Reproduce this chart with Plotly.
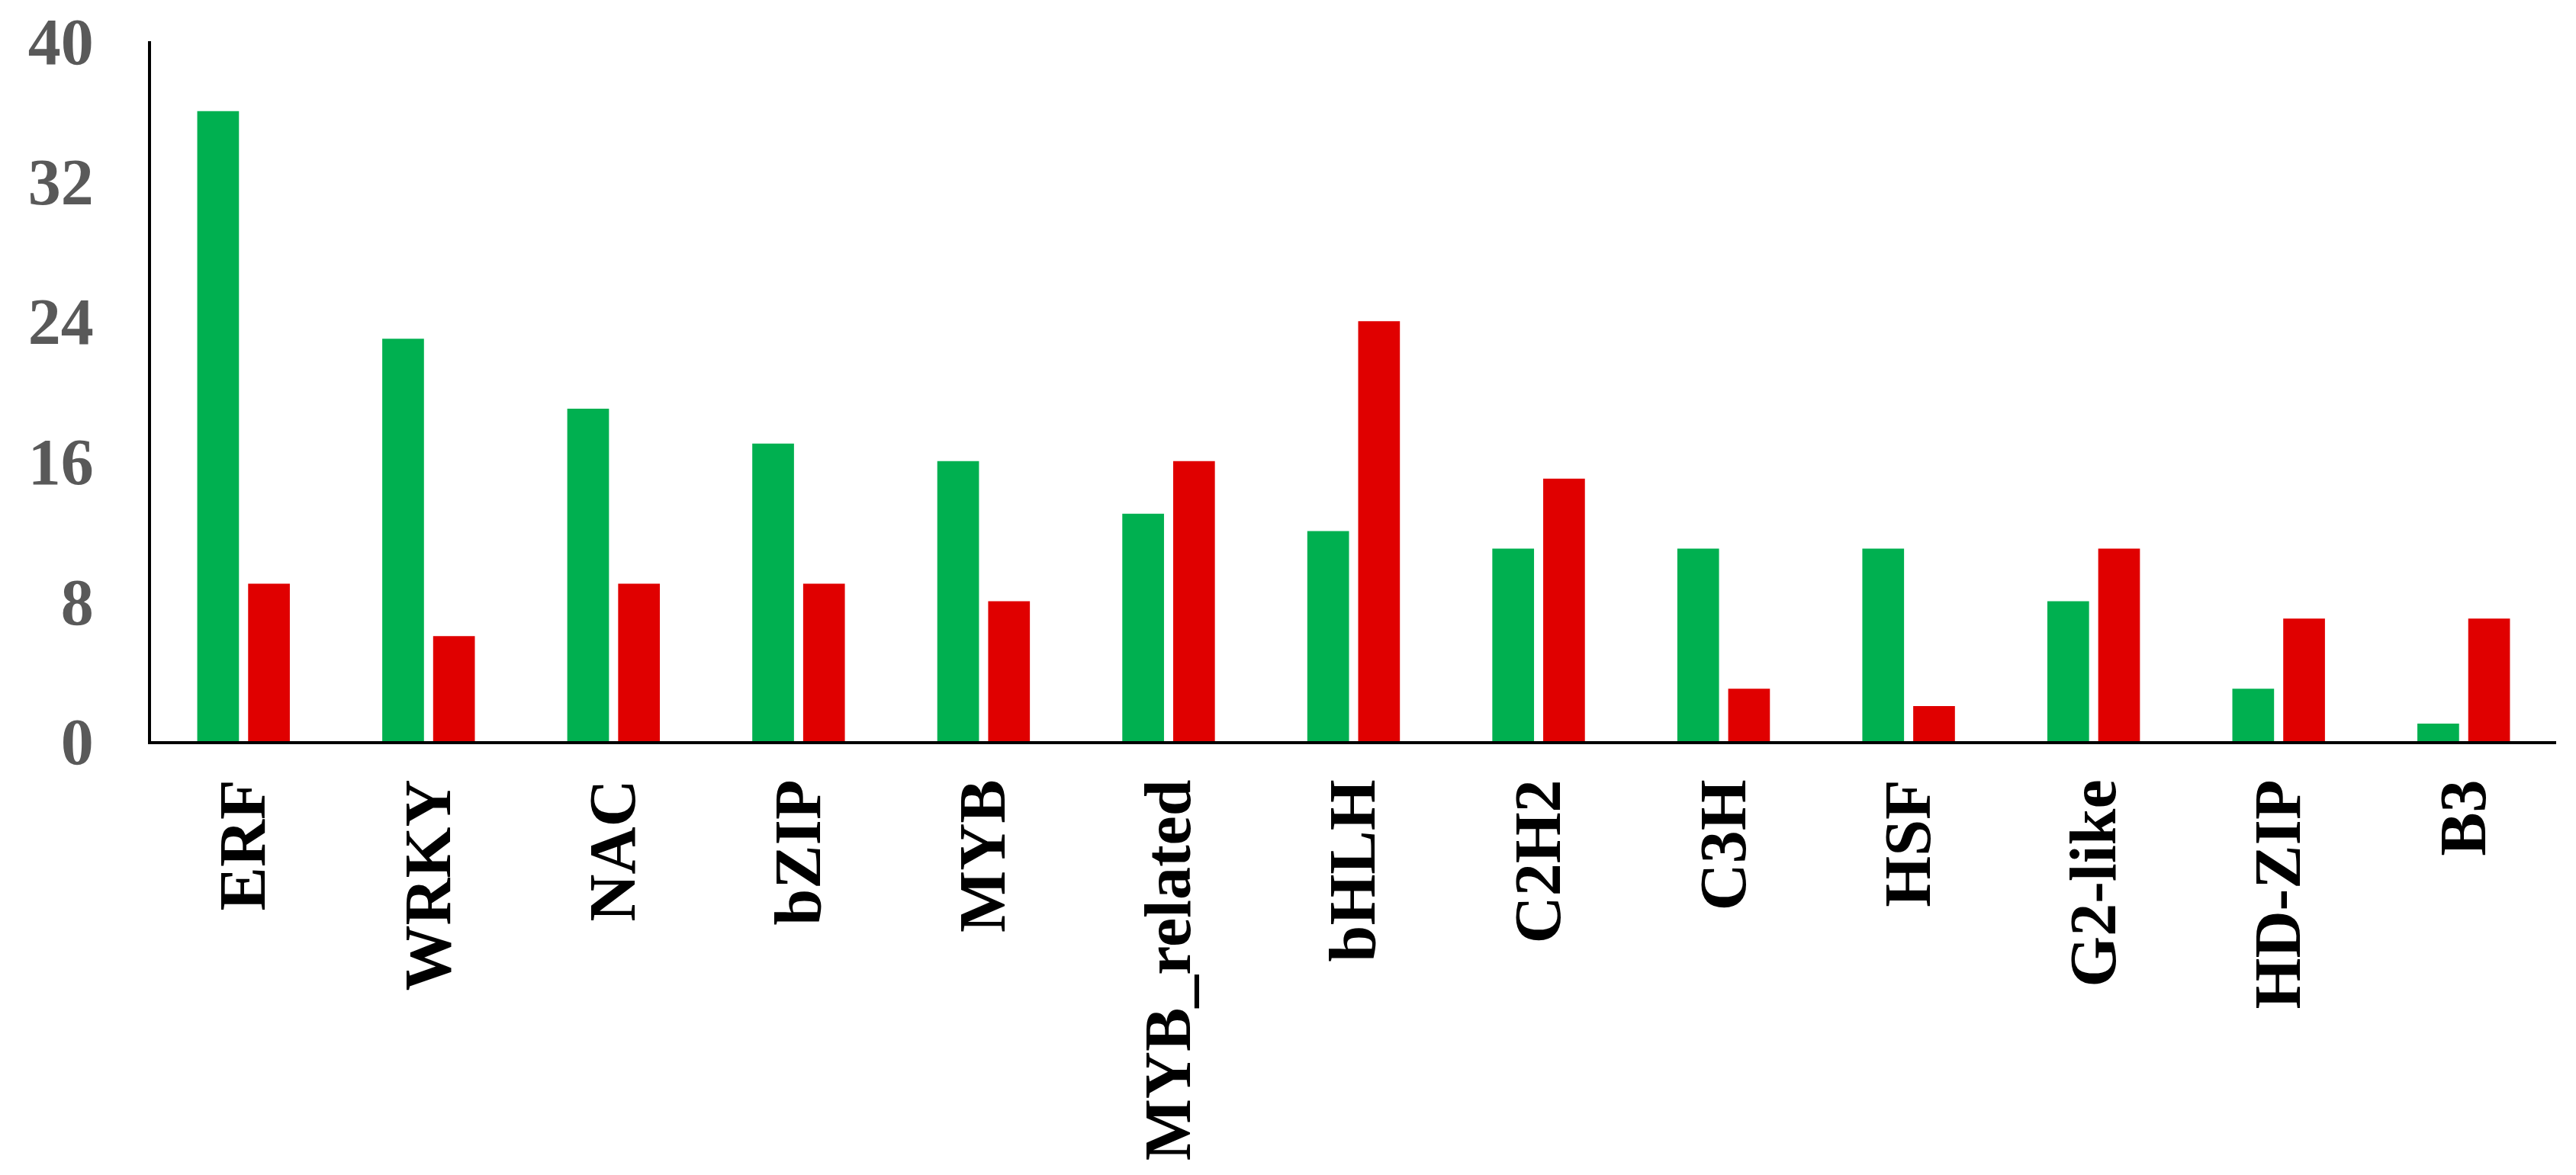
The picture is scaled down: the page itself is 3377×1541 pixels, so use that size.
import plotly.graph_objects as go

families = ["ERF", "WRKY", "NAC", "bZIP", "MYB", "MYB_related", "bHLH",
            "C2H2", "C3H", "HSF", "G2-like", "HD-ZIP", "B3"]
green_counts = [36, 23, 19, 17, 16, 13, 12, 11, 11, 11, 8, 3, 1]
red_counts = [9, 6, 9, 9, 8, 16, 24, 15, 3, 2, 11, 7, 7]
y_ticks = [0, 8, 16, 24, 32, 40]

GREEN = "#00B050"
RED = "#E00000"
FONT = "Times New Roman, Liberation Serif, serif"

fig = go.Figure()
fig.add_trace(go.Bar(x=families, y=green_counts, marker=dict(color=GREEN, line=dict(width=0)), name="up"))
fig.add_trace(go.Bar(x=families, y=red_counts, marker=dict(color=RED, line=dict(width=0)), name="down"))

fig.update_layout(
    width=3377,
    height=1541,
    barmode="group",
    bargap=0.45,
    bargroupgap=0.18,
    showlegend=False,
    paper_bgcolor="white",
    plot_bgcolor="white",
    margin=dict(l=190, r=34, t=46, b=577),
)
fig.update_xaxes(
    automargin=False,
    showline=True,
    linecolor="black",
    linewidth=4,
    showgrid=False,
    ticks="",
    tickangle=-90,
    ticklabelstandoff=12,
    tickfont=dict(family=FONT, size=86, color="black", weight="bold"),
)
fig.update_yaxes(
    automargin=False,
    range=[0, 40],
    tickvals=y_ticks,
    ticklabeloverflow="allow",
    showline=True,
    linecolor="black",
    linewidth=4,
    showgrid=False,
    zeroline=False,
    ticks="",
    ticklabelstandoff=54,
    tickfont=dict(family=FONT, size=86, color="#595959", weight="bold"),
)

fig.write_html("out.html")
